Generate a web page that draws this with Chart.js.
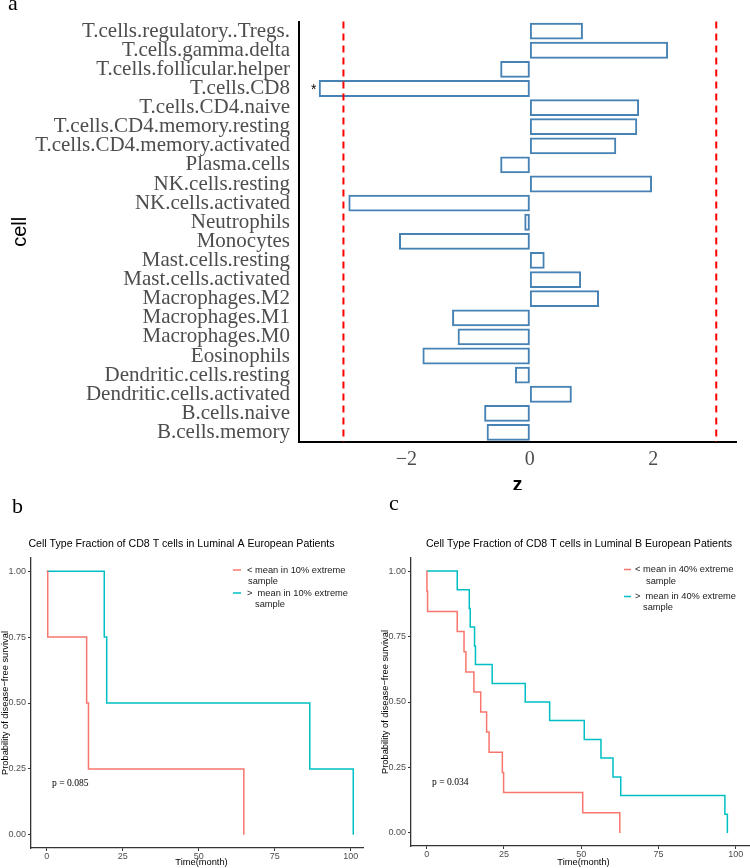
<!DOCTYPE html>
<html><head><meta charset="utf-8">
<script src="https://cdn.jsdelivr.net/npm/chart.js@4/dist/chart.umd.min.js"></script>
<style>
html,body{margin:0;padding:0;background:#fff;}
#wrap{position:relative;width:750px;height:868px;overflow:hidden;background:#fff;}
#wrap canvas{position:absolute;}
</style></head><body>
<div id="wrap">
<canvas id="ca" width="750" height="490" style="left:0;top:0;width:750px;height:490px"></canvas>
<canvas id="cb" width="375" height="378" style="left:0;top:490px;width:375px;height:378px"></canvas>
<canvas id="cc" width="375" height="378" style="left:375px;top:490px;width:375px;height:378px"></canvas>
</div>
<script>
// ---------- Panel a data ----------
const cells = ["T.cells.regulatory..Tregs.", "T.cells.gamma.delta", "T.cells.follicular.helper", "T.cells.CD8",
  "T.cells.CD4.naive", "T.cells.CD4.memory.resting", "T.cells.CD4.memory.activated", "Plasma.cells",
  "NK.cells.resting", "NK.cells.activated", "Neutrophils", "Monocytes", "Mast.cells.resting",
  "Mast.cells.activated", "Macrophages.M2", "Macrophages.M1", "Macrophages.M0", "Eosinophils",
  "Dendritic.cells.resting", "Dendritic.cells.activated", "B.cells.naive", "B.cells.memory"];
const zValues = [0.86, 2.24, -0.48, -3.42, 1.77, 1.74, 1.40, -0.48, 1.98, -2.94, -0.09, -2.12,
  0.24, 0.83, 1.12, -1.26, -1.17, -1.74, -0.24, 0.68, -0.74, -0.70];
const zThresholds = [-3.02, 3.02];
const zTicks = [-2, 0, 2];
const significantCells = ["T.cells.CD8"];

// ---------- Panel b data (Luminal A) ----------
const bLowTime  = [0, 0.3, 13.1, 13.7, 64.8];
const bLowSurv  = [1, 0.75, 0.5, 0.25, 0];
const bHighTime = [0, 18.9, 19.7, 86.5, 100.8];
const bHighSurv = [1, 0.75, 0.5, 0.25, 0];

// ---------- Panel c data (Luminal B) ----------
const cLowTime  = [0, 0.1, 0.3, 9.9, 12.1, 12.7, 15.3, 17.5, 19.4, 20.2, 24.5, 24.9, 50.5, 62.5];
const cLowSurv  = [1, 0.923, 0.846, 0.769, 0.692, 0.615, 0.538, 0.462, 0.385, 0.308, 0.231, 0.154, 0.077, 0];
const cHighTime = [0, 9.9, 13.8, 14.1, 15.5, 15.8, 21.2, 31.9, 39.8, 51.0, 56.4, 60.3, 62.8, 96.5, 97.3];
const cHighSurv = [1, 0.929, 0.857, 0.786, 0.714, 0.643, 0.571, 0.5, 0.429, 0.357, 0.286, 0.214, 0.143, 0.071, 0];

const kmTicksX = [0, 25, 50, 75, 100];
const kmTicksY = [0, 0.25, 0.5, 0.75, 1];

const SERIF = "'Liberation Serif', 'DejaVu Serif', serif";
const SANS = "'Liberation Sans', Arial, sans-serif";
const RED = '#F8766D', CYAN = '#00BFC4';

// ---------- Panel a ----------
const annotA = {
  id: 'annotA',
  afterDatasetsDraw(chart) {
    const {ctx, chartArea, scales: {x, y}} = chart;
    ctx.save();
    ctx.strokeStyle = '#FF0000'; ctx.lineWidth = 2; ctx.setLineDash([7, 5]);
    zThresholds.forEach(t => {
      const px = x.getPixelForValue(t);
      ctx.beginPath(); ctx.moveTo(px, chartArea.top); ctx.lineTo(px, chartArea.bottom); ctx.stroke();
    });
    ctx.setLineDash([]);
    ctx.fillStyle = '#000'; ctx.font = '14px ' + SANS; ctx.textAlign = 'center'; ctx.textBaseline = 'middle';
    significantCells.forEach(c => {
      const i = cells.indexOf(c);
      const v = zValues[i];
      ctx.fillText('*', x.getPixelForValue(v) - 5, y.getPixelForValue(i) + 2);
    });
    ctx.restore();
  },
  afterDraw(chart) {
    const {ctx, chartArea} = chart;
    ctx.save();
    ctx.fillStyle = '#000';
    ctx.font = '22px ' + SERIF; ctx.textAlign = 'left'; ctx.textBaseline = 'alphabetic';
    ctx.fillText('a', 8, 10);
    ctx.font = 'bold 20px ' + SANS; ctx.textAlign = 'center'; ctx.textBaseline = 'middle';
    ctx.fillText('z', (chartArea.left + chartArea.right) / 2, 485);
    ctx.font = '20px ' + SANS;
    ctx.translate(20, (chartArea.top + chartArea.bottom) / 2);
    ctx.rotate(-Math.PI / 2);
    ctx.fillText('cell', 0, 0);
    ctx.restore();
  }
};

new Chart(document.getElementById('ca'), {
  type: 'bar',
  data: {
    labels: cells,
    datasets: [{
      data: zValues, backgroundColor: 'rgba(255,255,255,0)', borderColor: '#4682B4', borderWidth: 2,
      borderSkipped: false, barPercentage: 0.88, categoryPercentage: 1
    }]
  },
  options: {
    indexAxis: 'y', responsive: false, animation: false, devicePixelRatio: 1,
    layout: {padding: {left: 0, top: 16, right: 14, bottom: 0}},
    plugins: {legend: {display: false}, tooltip: {enabled: false}},
    scales: {
      x: {
        type: 'linear', min: -3.74, max: 3.34,
        grid: {display: false, drawTicks: false},
        border: {display: true, color: '#000', width: 2},
        afterBuildTicks: s => { s.ticks = zTicks.map(v => ({value: v})); },
        ticks: {font: {family: SERIF, size: 20}, color: '#4D4D4D', padding: 6, maxRotation: 0,
          callback: v => (v < 0 ? '\u2212' : '') + Math.abs(v)},
        afterFit: s => { s.height = 48; }
      },
      y: {
        type: 'category',
        grid: {display: false, drawTicks: false},
        border: {display: true, color: '#000', width: 2},
        ticks: {autoSkip: false, font: {family: SERIF, size: 21}, color: '#4D4D4D', padding: 9},
        afterFit: s => { s.width = 299; }
      }
    }
  },
  plugins: [annotA]
});

// ---------- KM panels ----------
function kmAnnot(cfg) {
  return {
    id: 'kmAnnot',
    afterDraw(chart) {
      const {ctx, chartArea} = chart;
      ctx.save();
      ctx.fillStyle = '#000';
      // panel letter
      ctx.font = cfg.letterSize + 'px ' + SERIF; ctx.textAlign = 'left'; ctx.textBaseline = 'alphabetic';
      ctx.fillText(cfg.letter, cfg.letterX, cfg.letterY);
      // title
      ctx.font = '10.6px ' + SANS; ctx.textAlign = 'center'; ctx.textBaseline = 'middle';
      ctx.fillText(cfg.title, cfg.titleX, 54);
      // legend
      ctx.font = '9.3px ' + SANS; ctx.textAlign = 'left';
      cfg.legend.forEach(e => {
        ctx.strokeStyle = e.color; ctx.lineWidth = 1.5;
        ctx.beginPath(); ctx.moveTo(e.lx0, e.y); ctx.lineTo(e.lx1, e.y); ctx.stroke();
        ctx.fillStyle = '#1a1a1a';
        ctx.fillText(e.line1, e.tx, e.y);
        ctx.fillText(e.line2, e.tx2, e.y2);
      });
      // p-value
      ctx.fillStyle = '#000';
      ctx.font = '9.6px ' + SERIF;
      ctx.fillText(cfg.p, cfg.pX, cfg.pY);
      // axis titles
      ctx.font = '9.3px ' + SANS; ctx.textAlign = 'center';
      ctx.fillText('Time(month)', cfg.xTitleX, 372.5);
      ctx.textBaseline = 'alphabetic';
      ctx.translate(cfg.yTitleX, (chartArea.top + chartArea.bottom) / 2);
      ctx.rotate(-Math.PI / 2);
      ctx.fillText('Probability of disease\u2212free survival', 0, 0);
      ctx.restore();
    }
  };
}

function kmChart(id, low, high, xmin, xmax, yAxisW, padRight, xAxisH, cfg) {
  const mk = (t, s) => t.map((v, i) => ({x: v, y: s[i]}));
  return new Chart(document.getElementById(id), {
    type: 'scatter',
    data: {
      datasets: [
        {data: mk(low[0], low[1]), showLine: true, stepped: true, borderColor: RED, borderWidth: 1.5, pointRadius: 0, fill: false},
        {data: mk(high[0], high[1]), showLine: true, stepped: true, borderColor: CYAN, borderWidth: 1.5, pointRadius: 0, fill: false}
      ]
    },
    options: {
      responsive: false, animation: false, devicePixelRatio: 1,
      layout: {padding: {left: 0, top: 68, right: padRight, bottom: 0}},
      plugins: {legend: {display: false}, tooltip: {enabled: false}},
      scales: {
        x: {
          type: 'linear', min: xmin, max: xmax,
          grid: {display: true, drawOnChartArea: false, drawTicks: true, tickLength: 3, color: '#333'},
          border: {display: true, color: '#333', width: 1.3},
          afterBuildTicks: s => { s.ticks = kmTicksX.map(v => ({value: v})); },
          ticks: {font: {family: SANS, size: 9}, color: '#4D4D4D', padding: 0, maxRotation: 0,
            callback: v => String(v)},
          afterFit: s => { s.height = xAxisH; }
        },
        y: {
          type: 'linear', min: -0.05, max: 1.05,
          grid: {display: true, drawOnChartArea: false, drawTicks: true, tickLength: 3, color: '#333'},
          border: {display: true, color: '#333', width: 1.3},
          afterBuildTicks: s => { s.ticks = kmTicksY.map(v => ({value: v})); },
          ticks: {font: {family: SANS, size: 9}, color: '#4D4D4D', padding: 2,
            callback: v => Number(v).toFixed(2)},
          afterFit: s => { s.width = yAxisW; }
        }
      }
    },
    plugins: [kmAnnot(cfg)]
  });
}

kmChart('cb', [bLowTime, bLowSurv], [bHighTime, bHighSurv], -5.2, 104, 31, 12, 20, {
  letter: 'b', letterSize: 22, letterX: 12, letterY: 23,
  title: 'Cell Type Fraction of CD8 T cells in Luminal A European Patients', titleX: 181.5,
  legend: [
    {color: RED, lx0: 233, lx1: 241, y: 80, line1: '< mean in 10% extreme', tx: 247, line2: 'sample', tx2: 248, y2: 91},
    {color: CYAN, lx0: 233, lx1: 241, y: 103, line1: '>  mean in 10% extreme', tx: 247, line2: 'sample', tx2: 255, y2: 114.5}
  ],
  p: 'p = 0.085', pX: 52, pY: 293,
  xTitleX: 201.5, yTitleX: 7.5
});

kmChart('cc', [cLowTime, cLowSurv], [cHighTime, cHighSurv], -5.06, 104.3, 36, 1, 22, {
  letter: 'c', letterSize: 22, letterX: 14, letterY: 20,
  title: 'Cell Type Fraction of CD8 T cells in Luminal B European Patients', titleX: 204,
  legend: [
    {color: RED, lx0: 249, lx1: 256, y: 79.5, line1: '< mean in 40% extreme', tx: 260, line2: 'sample', tx2: 271, y2: 91},
    {color: CYAN, lx0: 249, lx1: 256, y: 106.5, line1: '>  mean in 40% extreme', tx: 260, line2: 'sample', tx2: 268, y2: 117.5}
  ],
  p: 'p = 0.034', pX: 57, pY: 292,
  xTitleX: 208.5, yTitleX: 13
});
</script>
</body></html>
